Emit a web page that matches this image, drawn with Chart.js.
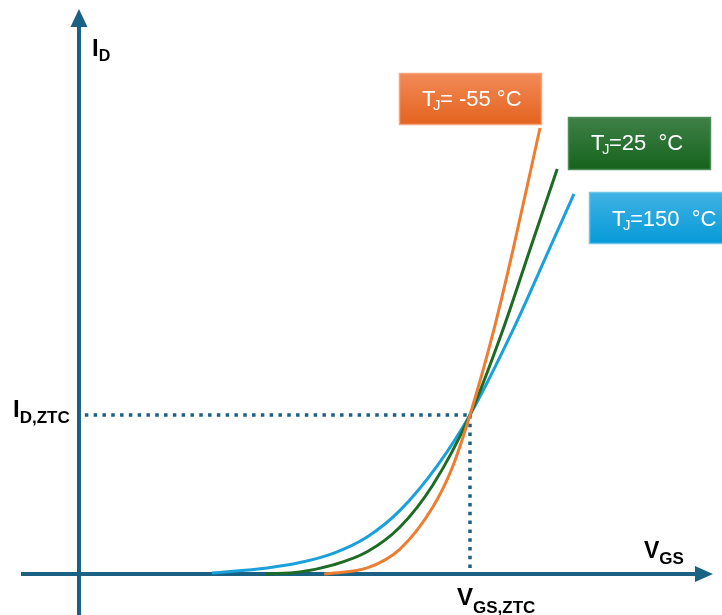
<!DOCTYPE html>
<html>
<head>
<meta charset="utf-8">
<script src="https://cdn.jsdelivr.net/npm/chart.js@4.4.1/dist/chart.umd.min.js"></script>
<style>
  body { margin: 0; background: #fff; }
  #wrap { width: 722px; height: 615px; position: relative; }
</style>
</head>
<body>
<div id="wrap"><canvas id="grafico"></canvas></div>
<script>
// normalised units: V_GS,ZTC = 1 and I_D,ZTC = 1
const vgsCold = [0.627, 0.737, 0.821, 0.905, 0.954, 1.0, 1.061, 1.110, 1.179];
const idCold  = [0, 0.038, 0.157, 0.421, 0.665, 1.0, 1.535, 2.038, 2.805];

const vgsRoom = [0.476, 0.565, 0.650, 0.737, 0.821, 0.905, 1.0, 1.084, 1.153, 1.223];
const idRoom  = [0, 0.013, 0.057, 0.140, 0.296, 0.560, 1.0, 1.535, 2.038, 2.547];

const vgsHot = [0.340, 0.481, 0.565, 0.650, 0.737, 0.821, 0.916, 1.0, 1.110, 1.202, 1.266];
const idHot  = [0.006, 0.038, 0.072, 0.130, 0.233, 0.400, 0.680, 1.0, 1.535, 2.038, 2.390];

const ztcV = 1.0;
const ztcI = 1.0;

const labelsTj = ["-55", "25", "150"];

const axisColor = "#1b6184";
const orange = "#ed7d31";
const green = "#1d6b25";
const blue = "#1aa1dc";

const pares = (xs, ys) => xs.map((x, i) => ({ x: x, y: ys[i] }));

const curva = (xs, ys, color, order) => ({
    data: pares(xs, ys),
    borderColor: color,
    borderWidth: 3,
    pointRadius: 0,
    showLine: true,
    cubicInterpolationMode: 'monotone',
    order: order
});

const punteada = (data) => ({
    data: data,
    borderColor: axisColor,
    borderWidth: 3.5,
    borderDash: [3.5, 5.3],
    borderCapStyle: 'butt',
    pointRadius: 0,
    showLine: true,
    order: 10
});

// axes with arrows, drawn under the curves
const ejes = {
    id: 'ejes',
    beforeDatasetsDraw(chart) {
        const ctx = chart.ctx;
        const ox = chart.scales.x.getPixelForValue(0);
        const oy = chart.scales.y.getPixelForValue(0);
        const a = chart.chartArea;
        ctx.save();
        ctx.strokeStyle = axisColor;
        ctx.fillStyle = axisColor;
        ctx.lineWidth = 4;
        ctx.beginPath();
        ctx.moveTo(ox, a.bottom);
        ctx.lineTo(ox, a.top + 24);
        ctx.moveTo(a.left + 21, oy);
        ctx.lineTo(a.right - 25, oy);
        ctx.stroke();
        ctx.beginPath();
        ctx.moveTo(ox, a.top + 9);
        ctx.lineTo(ox - 8.5, a.top + 27);
        ctx.lineTo(ox + 8.5, a.top + 27);
        ctx.closePath();
        ctx.fill();
        ctx.beginPath();
        ctx.moveTo(a.right - 9, oy);
        ctx.lineTo(a.right - 27, oy - 8);
        ctx.lineTo(a.right - 27, oy + 8);
        ctx.closePath();
        ctx.fill();
        ctx.restore();
    }
};

const conSub = (ctx, x, y, main, sub, big, small, dy) => {
    ctx.font = "bold " + big + "px 'Liberation Sans', Arial, sans-serif";
    ctx.fillText(main, x, y);
    const w = ctx.measureText(main).width;
    ctx.font = "bold " + small + "px 'Liberation Sans', Arial, sans-serif";
    ctx.fillText(sub, x + w, y + dy);
};

const caja = (ctx, x, y, w, h, top, bottom, edge) => {
    const g = ctx.createLinearGradient(0, y, 0, y + h);
    g.addColorStop(0, top);
    g.addColorStop(1, bottom);
    ctx.fillStyle = g;
    ctx.fillRect(x, y, w, h);
    ctx.strokeStyle = edge;
    ctx.lineWidth = 1.5;
    ctx.strokeRect(x, y, w, h);
};

const textoTj = (ctx, x, y, resto) => {
    ctx.fillStyle = "#ffffff";
    ctx.font = "22px 'Liberation Sans', Arial, sans-serif";
    ctx.fillText("T", x, y);
    ctx.font = "15px 'Liberation Sans', Arial, sans-serif";
    ctx.fillText("J", x + 11, y + 4);
    ctx.font = "22px 'Liberation Sans', Arial, sans-serif";
    ctx.fillText(resto, x + 18, y);
};

const textos = {
    id: 'textos',
    afterDatasetsDraw(chart) {
        const ctx = chart.ctx;
        const sx = chart.scales.x;
        const sy = chart.scales.y;
        const ox = sx.getPixelForValue(0);
        const oy = sy.getPixelForValue(0);
        const zx = sx.getPixelForValue(ztcV);
        const zy = sy.getPixelForValue(ztcI);
        ctx.save();
        ctx.fillStyle = "#000000";
        ctx.textBaseline = "alphabetic";
        conSub(ctx, ox + 13, 56, "I", "D", 24, 16, 5);
        conSub(ctx, 13, zy + 2, "I", "D,ZTC", 24, 17, 6);
        conSub(ctx, 644, oy - 16, "V", "GS", 23, 17, 6);
        conSub(ctx, zx - 13, oy + 31, "V", "GS,ZTC", 24, 17, 8);

        caja(ctx, 399.5, 73.5, 142, 51, "#f28a57", "#e4631f", "#f4a57c");
        caja(ctx, 568.5, 117.5, 142, 52, "#3f8048", "#15631c", "#4f8f57");
        caja(ctx, 589.5, 192.5, 140, 51, "#40b2e4", "#069ad8", "#6cc4ea");
        textoTj(ctx, 422, 106, "= -" + labelsTj[0].slice(1) + " °C");
        textoTj(ctx, 591, 150, "=" + labelsTj[1] + "  °C");
        textoTj(ctx, 612, 226, "=" + labelsTj[2] + "  °C");
        ctx.restore();
    }
};

const cuadro = document.querySelector("#grafico");

const grafico = new Chart(cuadro, {
    type: 'scatter',
    data: {
        datasets: [
            curva(vgsCold, idCold, orange, 1),
            curva(vgsRoom, idRoom, green, 2),
            curva(vgsHot, idHot, blue, 3),
            punteada([{ x: 0.015, y: ztcI }, { x: ztcV, y: ztcI }]),
            punteada([{ x: ztcV, y: ztcI }, { x: ztcV, y: 0.02 }])
        ]
    },
    options: {
        responsive: true,
        maintainAspectRatio: false,
        animation: false,
        layout: { padding: 0 },
        plugins: { legend: { display: false }, tooltip: { enabled: false } },
        scales: {
            x: { type: 'linear', display: false, min: -0.2020, max: 1.6445 },
            y: { type: 'linear', display: false, min: -0.2579, max: 3.610 }
        }
    },
    plugins: [ejes, textos]
});
</script>
</body>
</html>
